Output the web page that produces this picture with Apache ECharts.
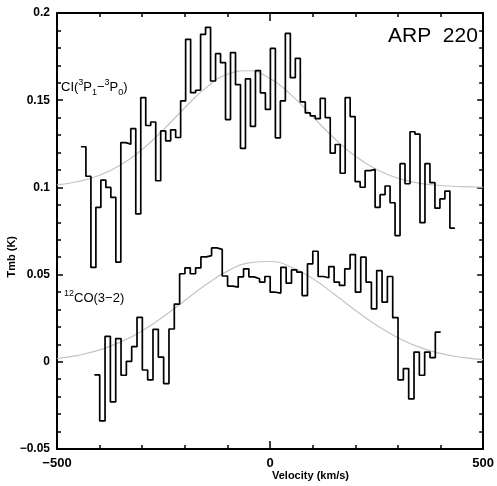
<!DOCTYPE html>
<html>
<head>
<meta charset="utf-8">
<script src="https://cdn.jsdelivr.net/npm/echarts@6/dist/echarts.min.js"></script>
<style>
html,body{margin:0;padding:0;background:#fff;}
#main{width:497px;height:486px;}
</style>
</head>
<body>
<div id="main"></div>
<script>
// CI(3P1-3P0) spectrum, channel centres start at ciStart, step ciStep (km/s)
var ciStart = -438, ciStep = 11.7;
var ciValues = [
  0.1233, 0.1064, 0.0541, 0.0886, 0.1042, 0.1000, 0.0943, 0.0571, 0.1257, 0.1248,
  0.1337, 0.0848, 0.1515, 0.1355, 0.1375, 0.1038, 0.1324, 0.1267, 0.1330, 0.1286,
  0.1496, 0.1849, 0.1543, 0.1557, 0.1878, 0.1918, 0.1610, 0.1767, 0.1715, 0.1389,
  0.1773, 0.1589, 0.1224, 0.1622, 0.1350, 0.1670, 0.1542, 0.1447, 0.1797, 0.1284,
  0.1496, 0.1883, 0.1629, 0.1740, 0.1490, 0.1427, 0.1410, 0.1394, 0.1510, 0.1400,
  0.1196, 0.1246, 0.1081, 0.1515, 0.1406, 0.1033, 0.1001, 0.1096, 0.1103, 0.0886,
  0.0958, 0.1008, 0.0912, 0.0724, 0.1136, 0.1021, 0.1319, 0.1305, 0.0798, 0.1136,
  0.1027, 0.0881, 0.0934, 0.0979, 0.0767
];
// 12CO(3-2) spectrum
var coStart = -406, coStep = 12.5;
var coValues = [
  -0.0075, -0.0339, 0.0146, -0.0230, 0.0133, -0.0077, 0.0003, 0.0087, 0.0255, -0.0047,
  -0.0104, 0.0186, 0.0027, -0.0125, 0.0188, 0.0331, 0.0505, 0.0539, 0.0505, 0.0539,
  0.0602, 0.0609, 0.0653, 0.0645, 0.0492, 0.0434, 0.0428, 0.0487, 0.0533, 0.0487,
  0.0476, 0.0457, 0.0489, 0.0399, 0.0394, 0.0542, 0.0451, 0.0527, 0.0514, 0.0380,
  0.0562, 0.0634, 0.0489, 0.0482, 0.0546, 0.0457, 0.0438, 0.0533, 0.0615, 0.0399,
  0.0600, 0.0457, 0.0304, 0.0523, 0.0342, 0.0489, 0.0253, -0.0104, -0.0039, -0.0213,
  0.0056, -0.0077, 0.0056, 0.0024, 0.0170
];
// gaussian fits (grey)
var fitVel = [-500,-450,-400,-350,-300,-250,-200,-150,-100,-50,0,50,100,150,200,250,300,350,400,450,500];
var ciFit = [0.1015,0.1034,0.1070,0.1130,0.1218,0.1331,0.1457,0.1572,0.1649,0.1669,0.1624,0.1529,0.1406,0.1283,0.1179,0.1103,0.1053,0.1025,0.1011,0.1004,0.1001];
var coFit = [0.0019,0.0037,0.0068,0.0114,0.0178,0.0260,0.0352,0.0443,0.0520,0.0567,0.0575,0.0543,0.0477,0.0389,0.0296,0.0209,0.0138,0.0084,0.0048,0.0025,0.0012];

function histo(start, step, vals){
  // left edges + closing edge, drawn with step:'end'
  var out = [];
  for (var i = 0; i < vals.length; i++) out.push([start + i*step - step/2, vals[i]]);
  out.push([start + (vals.length-1)*step + step/2, vals[vals.length-1]]);
  return out;
}
function pairs(xs, ys){
  return xs.map(function(x, i){ return [x, ys[i]]; });
}
function minus(v){ return String(v).replace('-', '\u2212'); }

var myChart = echarts.init(document.getElementById('main'));
var black = '#000';
var font = 'Liberation Sans, Arial, sans-serif';

function xAx(pos, labels){
  return {
    type:'value', position:pos, min:-500, max:500, interval:500,
    axisLine:{onZero:false, lineStyle:{color:black, width:2}},
    axisTick:{inside:true, length:8, lineStyle:{color:black, width:1.5}},
    minorTick:{show:true, splitNumber:5, length:4, lineStyle:{color:black, width:1.5}},
    axisLabel:{show:labels, color:black, fontFamily:font, fontWeight:'bold', fontSize:13, margin:8, formatter:minus},
    splitLine:{show:false}
  };
}
function yAx(pos, labels){
  return {
    type:'value', position:pos, min:-0.05, max:0.2, interval:0.05,
    axisLine:{onZero:false, lineStyle:{color:black, width:2}},
    axisTick:{inside:true, length:6, lineStyle:{color:black, width:1.5}},
    minorTick:{show:true, splitNumber:5, length:4, lineStyle:{color:black, width:1.5}},
    axisLabel:{show:labels, color:black, fontFamily:font, fontWeight:'bold', fontSize:12, margin:7, formatter:minus},
    splitLine:{show:false}
  };
}

// rich styles for the line labels (super/subscripts)
var rich = {
  n:{fontFamily:font, fontSize:13, lineHeight:19, verticalAlign:'middle', fill:black, color:black},
  sup:{fontFamily:font, fontSize:9, lineHeight:19, verticalAlign:'top', fill:black, color:black},
  sub:{fontFamily:font, fontSize:9, lineHeight:19, verticalAlign:'bottom', fill:black, color:black}
};

var option = {
  animation:false,
  backgroundColor:'#fff',
  grid:{left:57, right:10, top:13, bottom:37},
  xAxis:[xAx('bottom', true), xAx('top', false)],
  yAxis:[yAx('left', true), yAx('right', false)],
  graphic:[
    {type:'text', left:388, top:26, style:{text:'ARP  220', font:'21px ' + font, fill:black}},
    {type:'text', left:61, top:78, style:{
      text:'{n|CI(}{sup|3}{n|P}{sub|1}{n|\u2212}{sup|3}{n|P}{sub|0}{n|)}', rich:rich}},
    {type:'text', left:64, top:289, style:{
      text:'{sup|12}{n|CO(3\u22122)}', rich:rich}},
    {type:'text', left:272, top:470, style:{text:'Velocity (km/s)', font:'bold 11px ' + font, fill:black, textAlign:'center'}},
    {type:'text', left:6, top:236, rotation:Math.PI/2, style:{text:'Tmb (K)', font:'bold 11px ' + font, fill:black}}
  ],
  series:[
    {type:'line', data:pairs(fitVel, ciFit), smooth:true, symbol:'none', lineStyle:{color:'#c4c4c4', width:1.2}},
    {type:'line', data:pairs(fitVel, coFit), smooth:true, symbol:'none', lineStyle:{color:'#c4c4c4', width:1.2}},
    {type:'line', step:'end', data:histo(ciStart, ciStep, ciValues), symbol:'none', lineStyle:{color:black, width:1.7}},
    {type:'line', step:'end', data:histo(coStart, coStep, coValues), symbol:'none', lineStyle:{color:black, width:1.7}}
  ]
};
myChart.setOption(option);
</script>
</body>
</html>
